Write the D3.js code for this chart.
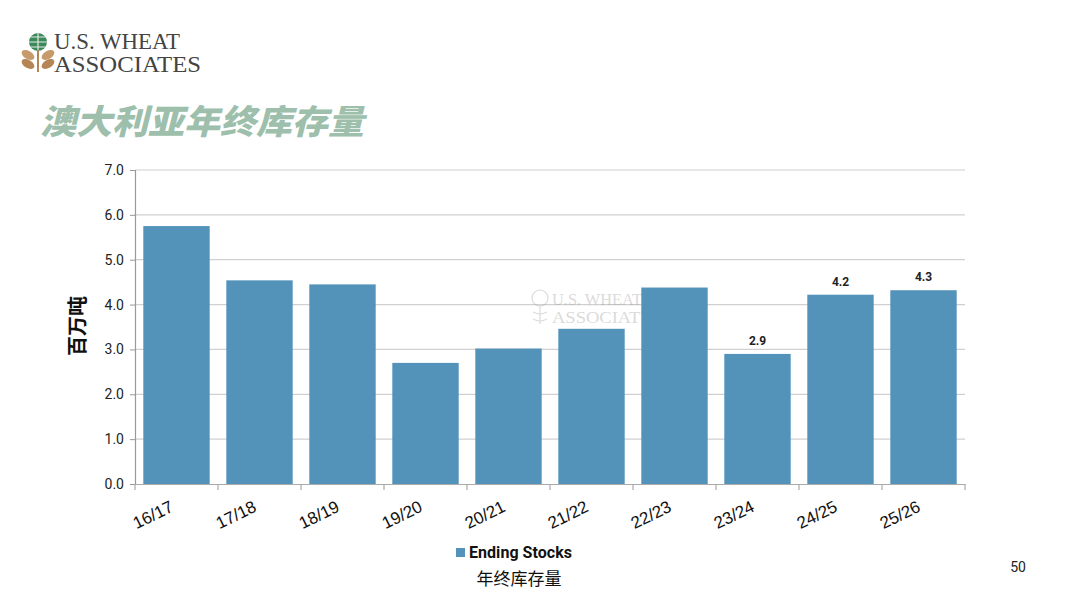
<!DOCTYPE html>
<html><head><meta charset="utf-8">
<script src="https://cdn.jsdelivr.net/npm/d3@7"></script>
<style>body{margin:0;background:#fff;}svg{display:block;}</style>
</head><body>
<svg id="c" width="1080" height="608"></svg>
<script>
const categories = ["16/17","17/18","18/19","19/20","20/21","21/22","22/23","23/24","24/25","25/26"];
const endingStocks = [5.75, 4.54, 4.45, 2.70, 3.02, 3.46, 4.38, 2.90, 4.22, 4.32];
const labelled = ["23/24","24/25","25/26"];
const yTicks = [0,1,2,3,4,5,6,7];

const svg = d3.select("#c");
const m = {l:135, r:965, t:170, b:484};
const x = d3.scaleBand().domain(categories).range([m.l, m.r]).paddingInner(0.2).paddingOuter(0.1);
const y = d3.scaleLinear().domain([0,7]).range([m.b, m.t]);

// gridlines
svg.append("g").selectAll("line").data(yTicks.filter(d=>d>0)).join("line")
  .attr("x1", m.l).attr("x2", m.r).attr("y1", d=>y(d)).attr("y2", d=>y(d))
  .attr("stroke", "#d0d0d0").attr("stroke-width", 1.2);

// watermark logo
const wm = svg.append("g").attr("opacity", 0.35);
wm.append("circle").attr("cx", 540).attr("cy", 298).attr("r", 8).attr("fill","none").attr("stroke","#999").attr("stroke-width",1.2);
wm.append("path").attr("d","M540 306 L540 324 M533 312 Q540 316 547 312 M533 319 Q540 323 547 319").attr("fill","none").attr("stroke","#999").attr("stroke-width",1.2);
wm.append("text").attr("x", 552).attr("y", 305).attr("font-family","Liberation Serif").attr("font-size",16).attr("fill","#999").attr("textLength",90).attr("lengthAdjust","spacingAndGlyphs").text("U.S. WHEAT");
wm.append("text").attr("x", 552).attr("y", 323).attr("font-family","Liberation Serif").attr("font-size",16).attr("fill","#999").attr("textLength",110).attr("lengthAdjust","spacingAndGlyphs").text("ASSOCIATES");

// bars
svg.append("g").selectAll("rect").data(categories).join("rect")
  .attr("x", d=>x(d)).attr("width", x.bandwidth())
  .attr("y", (d,i)=>y(endingStocks[i])).attr("height", (d,i)=>y(0)-y(endingStocks[i]))
  .attr("fill", "#5393b9");

// data labels
svg.append("g").selectAll("text").data(categories.filter(c=>labelled.includes(c))).join("text")
  .attr("x", d=>x(d)+x.bandwidth()/2)
  .attr("y", d=>y(endingStocks[categories.indexOf(d)]) - 9)
  .attr("text-anchor","middle").attr("font-family","Roboto").attr("font-weight","bold")
  .attr("font-size",12).attr("fill","#222")
  .text(d=>endingStocks[categories.indexOf(d)].toFixed(1));

// y axis
const ya = svg.append("g").attr("transform", `translate(${m.l},0)`)
  .call(d3.axisLeft(y).tickValues(yTicks).tickFormat(d3.format(".1f")).tickSize(5).tickPadding(6));
ya.select(".domain").attr("stroke","#999").attr("stroke-width",1.2);
ya.selectAll(".tick line").attr("stroke","#999");
ya.selectAll("text").attr("font-family","Roboto").attr("font-size",14).attr("fill","#222");

// x axis
const xa = svg.append("g").attr("transform", `translate(0,${m.b})`)
  .call(d3.axisBottom(x).tickSize(0).tickFormat(""));
xa.select(".domain").attr("stroke","#aaa").attr("stroke-width",1.2);
const bounds = [m.l].concat(categories.map(c=>x(c)+x.bandwidth()+x.step()*x.paddingInner()/2));
bounds[bounds.length-1] = m.r;
svg.append("g").selectAll("line").data(bounds).join("line")
  .attr("x1", d=>d).attr("x2", d=>d).attr("y1", m.b).attr("y2", m.b+6)
  .attr("stroke","#aaa").attr("stroke-width",1.2);
svg.append("g").selectAll("text").data(categories).join("text")
  .attr("transform", d=>`translate(${x(d)+x.bandwidth()/2-21},${m.b+36}) rotate(-26)`)
  .attr("text-anchor","middle").attr("font-family","Liberation Sans").attr("font-size",17).attr("fill","#111")
  .text(d=>d);

// y title
svg.append("text").attr("transform","translate(85,326) rotate(-90)")
  .attr("text-anchor","middle").attr("font-family","Noto Sans CJK SC").attr("font-weight","bold")
  .attr("font-size",20).attr("fill","#111").text("百万吨");

// legend
svg.append("rect").attr("x",456).attr("y",548).attr("width",9).attr("height",9).attr("fill","#5393b9");
svg.append("text").attr("x",469).attr("y",558).attr("font-family","Roboto").attr("font-weight","bold")
  .attr("font-size",16).attr("fill","#111").attr("textLength",103).text("Ending Stocks");
svg.append("text").attr("x",519).attr("y",585).attr("text-anchor","middle").attr("font-family","Noto Sans CJK SC")
  .attr("font-size",17).attr("fill","#111").text("年终库存量");

// page number
svg.append("text").attr("x",1018).attr("y",572).attr("text-anchor","middle").attr("font-family","Roboto")
  .attr("font-size",14).attr("fill","#222").text("50");

// title
svg.append("text").attr("x",40).attr("y",134).attr("font-family","Noto Sans CJK SC").attr("font-weight","900")
  .attr("font-size",34).attr("fill","#9dbfac")
  .attr("transform","translate(40,134) skewX(-14) translate(-40,-134)")
  .attr("textLength",324).attr("lengthAdjust","spacingAndGlyphs").text("澳大利亚年终库存量");

// logo
const lg = svg.append("g");
lg.append("circle").attr("cx",38).attr("cy",42).attr("r",9).attr("fill","#3a8a5a");
lg.append("path").attr("d","M29 42 H47 M38 33 V51 M31 37 H45 M31 47 H45").attr("stroke","#e8e8e8").attr("stroke-width",1.2);
[[28,55,"#c69a6a"],[48,55,"#c69a6a"],[28,64,"#b58555"],[48,64,"#b58555"]].forEach(([cx,cy,c])=>{
  lg.append("ellipse").attr("cx",cx).attr("cy",cy).attr("rx",7).attr("ry",4).attr("fill",c)
    .attr("transform",`rotate(${cx<38?30:-30},${cx},${cy})`);
});
lg.append("path").attr("d","M38 50 V72").attr("stroke","#b58555").attr("stroke-width",2);
lg.append("text").attr("x",54).attr("y",49).attr("font-family","Liberation Serif").attr("font-size",23)
  .attr("fill","#444").attr("textLength",126).attr("lengthAdjust","spacingAndGlyphs").text("U.S. WHEAT");
lg.append("text").attr("x",54).attr("y",72).attr("font-family","Liberation Serif").attr("font-size",23)
  .attr("fill","#444").attr("textLength",147).attr("lengthAdjust","spacingAndGlyphs").text("ASSOCIATES");
</script>
</body></html>
